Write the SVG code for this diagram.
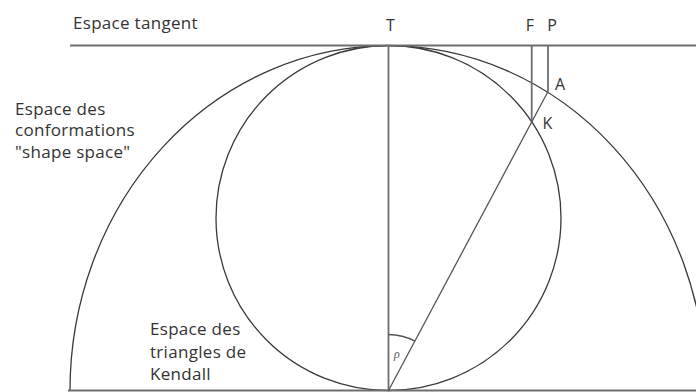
<svg xmlns="http://www.w3.org/2000/svg" width="696" height="392" viewBox="0 0 696 392">
  <style>
    .curve { fill: none; stroke: #3a3a3a; stroke-width: 1.3; }
    .gline { fill: none; stroke: #6e6e6e; stroke-width: 1.8; }
    .thin { fill: none; stroke: #555; stroke-width: 1.3; }
    .lbl { font-family: "Open Sans", "Liberation Sans", sans-serif; font-size: 17px; letter-spacing: 0.3px; fill: #333; }
    .pt { font-family: "Open Sans", "Liberation Sans", sans-serif; font-size: 16px; fill: #333; }
    .rho { font-family: "Liberation Serif", serif; font-style: italic; font-size: 12px; fill: #555; }
  </style>
  <rect width="696" height="392" fill="#ffffff"/>

  <g id="shapes">
    <path id="shape-space" class="curve" d="M 70 390.5 A 318 345 0 0 1 706 390.5"/>
    <circle id="kendall-circle" class="curve" cx="388.5" cy="218" r="172.5"/>
  </g>

  <g id="connectors">
    <line id="tangent" class="gline" x1="70" y1="45.5" x2="696" y2="45.5"/>
    <line id="base" class="gline" x1="68" y1="390.5" x2="696" y2="390.5"/>
    <line id="axis-T" class="gline" x1="388.5" y1="45.5" x2="388.5" y2="390.5"/>
    <line id="line-F" class="gline" x1="531.7" y1="45.5" x2="531.7" y2="121.8"/>
    <line id="line-P" class="gline" x1="548" y1="45.5" x2="548" y2="91.5"/>
    <line id="diagonal" class="thin" x1="388.5" y1="390.5" x2="548" y2="91.5"/>
    <path id="angle-arc" class="thin" d="M 388.5 334.5 A 56 56 0 0 1 414.8 341.1"/>
  </g>

  <g id="labels">
    <text class="lbl" x="73" y="28.5">Espace tangent</text>
    <text class="lbl" x="15" y="114.8">Espace des</text>
    <text class="lbl" x="15" y="136.3">conformations</text>
    <text class="lbl" x="15" y="157.8">"shape space"</text>
    <text class="lbl" x="150" y="335">Espace des</text>
    <text class="lbl" x="150" y="357.5">triangles de</text>
    <text class="lbl" x="150" y="379.5">Kendall</text>
    <text class="pt" x="390.5" y="30.5" text-anchor="middle">T</text>
    <text class="pt" x="530" y="30.5" text-anchor="middle">F</text>
    <text class="pt" x="552" y="30.5" text-anchor="middle">P</text>
    <text class="pt" x="555" y="90">A</text>
    <text class="pt" x="542.5" y="128.5">K</text>
    <text class="rho" x="394" y="358">ρ</text>
  </g>
</svg>
